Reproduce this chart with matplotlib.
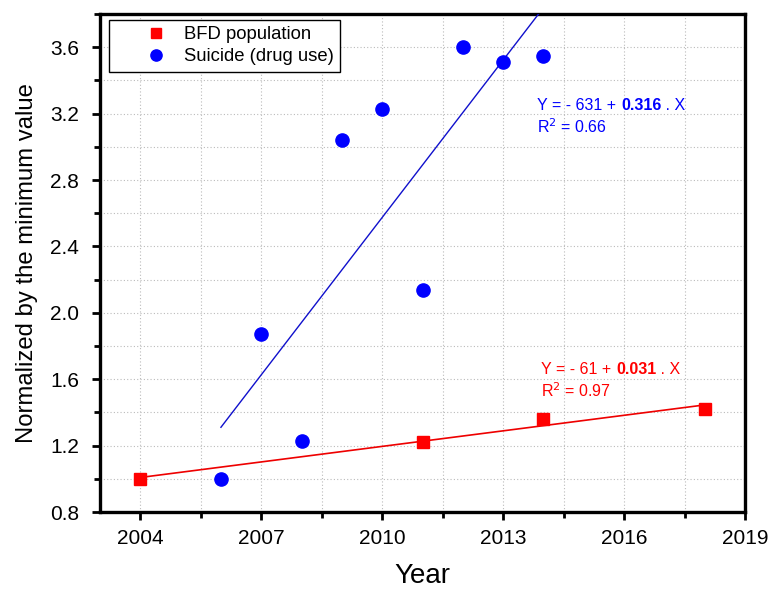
import numpy as np
import matplotlib
matplotlib.use("Agg")
import matplotlib.pyplot as plt
from matplotlib.ticker import MultipleLocator

plt.rcParams['font.family'] = ['Liberation Sans', 'DejaVu Sans']

bfd_years = [2004, 2011, 2014, 2018]
bfd_values = [1.00, 1.22, 1.36, 1.42]
sui_years = [2006, 2007, 2008, 2009, 2010, 2011, 2012, 2013, 2014]
sui_values = [1.00, 1.87, 1.23, 3.04, 3.23, 2.14, 3.60, 3.51, 3.55]
x_ticks = [2004, 2007, 2010, 2013, 2016, 2019]
y_ticks = [0.8, 1.2, 1.6, 2.0, 2.4, 2.8, 3.2, 3.6]

fig = plt.figure(figsize=(7.71, 5.89), dpi=100)
ax = fig.add_axes([0.1297, 0.1307, 0.8366, 0.8455])

red = '#FF0000'
blue = '#0000FF'

# fits
bx = np.array(bfd_years, dtype=float)
b_fit = np.polyfit(bx, bfd_values, 1)
sx = np.array(sui_years, dtype=float)
s_fit = np.polyfit(sx, sui_values, 1)
xb = np.array([bx.min(), bx.max()])
xs = np.array([sx.min(), sx.max()])
ax.plot(xb, np.polyval(b_fit, xb), color='#EE0000', lw=1.2, zorder=3)
ax.plot(xs, np.polyval(s_fit, xs), color='#1010CC', lw=1.0, zorder=3)

ax.plot(bfd_years, bfd_values, 's', color=red, ms=8, label='BFD population', zorder=4)
ax.plot(sui_years, sui_values, 'o', color=blue, ms=9.5, mec=blue, label='Suicide (drug use)', zorder=4)

ax.set_xlim(2003, 2019)
ax.set_ylim(0.8, 3.8)
ax.set_xticks(x_ticks)
ax.set_yticks(y_ticks)
ax.xaxis.set_minor_locator(MultipleLocator(1.5))
ax.yaxis.set_minor_locator(MultipleLocator(0.2))
ax.grid(True, which='both', linestyle=(0, (1, 2)), color='#BBBBBB', lw=0.8)
ax.set_axisbelow(True)

for s in ax.spines.values():
    s.set_linewidth(2.4)
ax.tick_params(which='major', direction='out', length=6, width=2, labelsize=15)
ax.tick_params(which='minor', direction='out', length=4, width=2)
ax.tick_params(axis='x', which='major', pad=6)
ax.tick_params(axis='y', which='major', pad=9)

ax.set_xlabel('Year', fontsize=20, labelpad=11)
ax.set_ylabel('Normalized by the minimum value', fontsize=17.2, labelpad=9)

leg = ax.legend(loc='upper left', bbox_to_anchor=(0.014, 0.988), borderaxespad=0,
                fontsize=13.3, frameon=True, fancybox=False, edgecolor='black',
                framealpha=1, handletextpad=-0.7, borderpad=0.35, labelspacing=0.25,
                markerscale=0.85, handlelength=4.4)
leg.get_frame().set_linewidth(1.0)

def eq(x, y, color, a, b, r2):
    fs = 11.5
    t1 = ax.text(x, y, f'Y = - {a} + ', color=color, fontsize=fs, transform=ax.transData)
    t2 = ax.annotate(b, xy=(1, 0), xycoords=t1, va='bottom', ha='left',
                     color=color, fontsize=fs, fontweight='bold')
    ax.annotate(' . X', xy=(1, 0), xycoords=t2, va='bottom', ha='left',
                color=color, fontsize=fs)
    ax.text(x, y - 0.135, f'R$^2$ = {r2}', color=color, fontsize=fs)

eq(2013.85, 3.22, blue, '631', '0.316', '0.66')
eq(2013.95, 1.63, red, '61', '0.031', '0.97')

fig.savefig('out.png', dpi=100)
